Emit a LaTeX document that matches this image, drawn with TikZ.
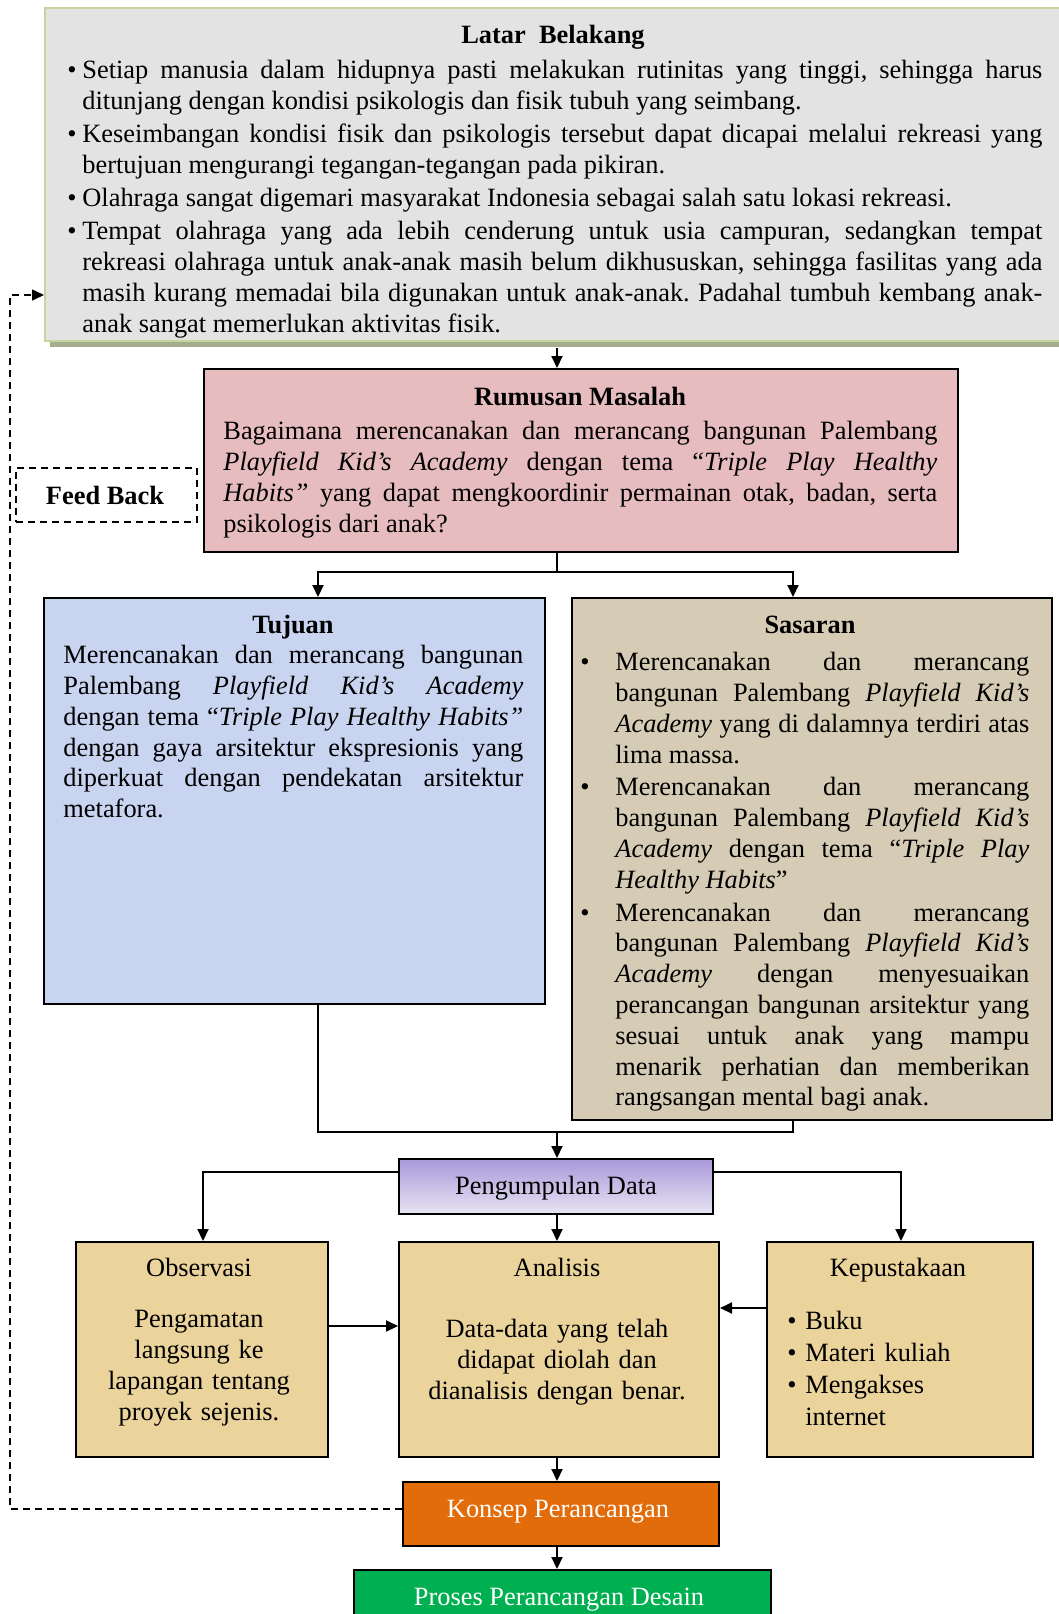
\documentclass[tikz,border=0pt]{standalone}
\usepackage{fontspec}
\setmainfont{Liberation Serif}
\usetikzlibrary{arrows.meta,calc}
\definecolor{latfill}{HTML}{E3E3E3}
\definecolor{latborder}{HTML}{C3D69B}
\definecolor{latshadow}{HTML}{A4AD8E}
\definecolor{rumfill}{HTML}{E6BCBE}
\definecolor{tujfill}{HTML}{C8D4F0}
\definecolor{sasfill}{HTML}{D6CCB5}
\definecolor{tanfill}{HTML}{EBD39C}
\definecolor{pdtop}{HTML}{A898D8}
\definecolor{pdbot}{HTML}{E8E4F4}
\definecolor{konfill}{HTML}{E36C0A}
\definecolor{profill}{HTML}{00B050}
\newcommand\bitem[1]{\hangindent=#1\hangafter=1\noindent\makebox[#1][l]{\textbullet}}
\frenchspacing
\begin{document}
\begin{tikzpicture}[x=0.5pt,y=-0.5pt,
  font=\fontsize{13.2pt}{15.4pt}\selectfont,
  box/.style={draw=black, line width=1pt, inner sep=0pt, anchor=north west},
  txt/.style={inner sep=0pt},
  body/.style={inner sep=0pt, anchor=mid west, align=justify},
  conn/.style={line width=1pt},
  arr/.style={conn, -{Triangle[length=6pt,width=5.5pt]}},
  fb/.style={line width=0.8pt, dash pattern=on 3.5pt off 2.5pt},
]
\useasboundingbox (0,0) rectangle (1059,1614);
\hyphenpenalty=10000 \exhyphenpenalty=0 \tolerance=10000

% ---------- boxes ----------
\node[anchor=north west, fill=latshadow, minimum width=511pt, minimum height=166.5pt, inner sep=0pt] (latsh) at (50,14) {};
\node[box, draw=latborder, fill=latfill, minimum width=511pt, minimum height=166.5pt] (lat) at (44,7) {};
\node[box, fill=rumfill, minimum width=377pt, minimum height=91.5pt] (rum) at (203,368) {};
\node[box, fb, minimum width=90.5pt, minimum height=27pt] (fbk) at (15,467) {};
\node[box, fill=tujfill, minimum width=250.5pt, minimum height=203pt] (tuj) at (43,597) {};
\node[box, fill=sasfill, minimum width=240pt, minimum height=261pt] (sas) at (571,597) {};
\node[box, top color=pdtop, bottom color=pdbot, minimum width=157pt, minimum height=27.5pt] (pd) at (398,1158) {};
\node[box, fill=tanfill, minimum width=126pt, minimum height=107.5pt] (obs) at (75,1241) {};
\node[box, fill=tanfill, minimum width=160pt, minimum height=107.5pt] (ana) at (398,1241) {};
\node[box, fill=tanfill, minimum width=133pt, minimum height=107.5pt] (kep) at (766,1241) {};
\node[box, fill=konfill, minimum width=158pt, minimum height=32pt] (kon) at (402,1481) {};
\node[box, fill=profill, minimum width=208.5pt, minimum height=40pt] (pro) at (353,1569) {};

% ---------- texts ----------
\node[txt, anchor=mid] (latt) at (553,39) {\textbf{Latar~ Belakang}};
\node[body, text width=487.5pt] (latb) at (67,74) {%
\bitem{7.5pt}Setiap manusia dalam hidupnya pasti melakukan rutinitas yang tinggi, sehingga harus\linebreak ditunjang dengan kondisi psikologis dan fisik tubuh yang seimbang.\par\vspace{1.2pt}
\bitem{7.5pt}Keseimbangan kondisi fisik dan psikologis tersebut dapat dicapai melalui rekreasi yang\linebreak bertujuan mengurangi tegangan-tegangan pada pikiran.\par\vspace{1.2pt}
\bitem{7.5pt}Olahraga sangat digemari masyarakat Indonesia sebagai salah satu lokasi rekreasi.\par\vspace{1.2pt}
\bitem{7.5pt}Tempat olahraga yang ada lebih cenderung untuk usia campuran, sedangkan tempat\linebreak rekreasi olahraga untuk anak-anak masih belum dikhususkan, sehingga fasilitas yang ada\linebreak masih kurang memadai bila digunakan untuk anak-anak. Padahal tumbuh kembang anak-\linebreak anak sangat memerlukan aktivitas fisik.\par};

\node[txt, anchor=mid] (rumt) at (580,401) {\textbf{Rumusan Masalah}};
\node[body, text width=357pt] (rumb) at (223,435) {%
Bagaimana merencanakan dan merancang bangunan Palembang\linebreak
\textit{Playfield Kid’s Academy} dengan tema “\textit{Triple Play Healthy}\linebreak
\textit{Habits”} yang dapat mengkoordinir permainan otak, badan, serta\linebreak
psikologis dari anak?};

\node[txt, anchor=mid] (fbt) at (105,500) {\textbf{Feed Back}};

\node[txt, anchor=mid] (tujt) at (293,629) {\textbf{Tujuan}};
\node[body, text width=230pt] (tujb) at (63,659) {%
Merencanakan dan merancang bangunan\linebreak
Palembang \textit{Playfield Kid’s Academy}\linebreak
dengan tema “\textit{Triple Play Healthy Habits”}\linebreak
dengan gaya arsitektur ekspresionis yang\linebreak
diperkuat dengan pendekatan arsitektur\linebreak
metafora.};

\node[txt, anchor=mid] (sast) at (810,629) {\textbf{Sasaran}};
\node[body, text width=224.5pt] (sasb) at (580,666) {%
\bitem{17.5pt}Merencanakan dan merancang\linebreak
bangunan Palembang \textit{Playfield Kid’s}\linebreak
\textit{Academy} yang di dalamnya terdiri atas\linebreak
lima massa.\par\vspace{1pt}
\bitem{17.5pt}Merencanakan dan merancang\linebreak
bangunan Palembang \textit{Playfield Kid’s}\linebreak
\textit{Academy} dengan tema “\textit{Triple Play}\linebreak
\textit{Healthy Habits}”\par\vspace{1pt}
\bitem{17.5pt}Merencanakan dan merancang\linebreak
bangunan Palembang \textit{Playfield Kid’s}\linebreak
\textit{Academy} dengan menyesuaikan\linebreak
perancangan bangunan arsitektur yang\linebreak
sesuai untuk anak yang mampu\linebreak
menarik perhatian dan memberikan\linebreak
rangsangan mental bagi anak.\par};

\node[txt, anchor=mid] (pdt) at (556,1190) {Pengumpulan Data};

\node[txt, anchor=mid] (obst) at (199,1272) {Observasi};
\node[txt, anchor=mid, align=center, text width=120pt] (obsb) at (199,1323) {Pengamatan\\langsung ke\\lapangan tentang\\proyek sejenis.};

\node[txt, anchor=mid] (anat) at (557,1272) {Analisis};
\node[txt, anchor=mid, align=center, text width=155pt] (anab) at (557,1333) {Data-data yang telah\\didapat diolah dan\\dianalisis dengan benar.};

\node[txt, anchor=mid] (kept) at (898,1272) {Kepustakaan};
\node[txt, anchor=mid west, align=left, text width=120pt, font=\fontsize{13.2pt}{16pt}\selectfont] (kepb) at (787,1325) {%
\bitem{9pt}Buku\par
\bitem{9pt}Materi kuliah\par
\bitem{9pt}Mengakses\newline internet\par};

\node[txt, anchor=mid, text=white] (kont) at (558,1513) {Konsep Perancangan};
\node[txt, anchor=mid, text=white] (prot) at (559,1601) {Proses Perancangan Desain};

% ---------- connectors ----------
\coordinate (cx) at (557,0);
\coordinate (tx) at (318,0);
\coordinate (sx) at (793,0);
\coordinate (sy) at (0,572);
\coordinate (my) at (0,1132);
\coordinate (py) at (0,1172);
\coordinate (ox) at (203,0);
\coordinate (kx) at (901,0);
\coordinate (ax) at (557,0);
\coordinate (oy) at (0,1326);
\coordinate (ky) at (0,1308);
\coordinate (fx) at (10,0);
\coordinate (fy) at (0,1509);
\coordinate (ty) at (0,295);

\draw[arr] (cx |- latsh.south) -- (cx |- rum.north);
\draw[conn] (cx |- rum.south) -- (cx |- sy);
\draw[arr] (cx |- sy) -| (tx |- tuj.north);
\draw[arr] (cx |- sy) -| (sx |- sas.north);
\draw[conn] (tx |- tuj.south) |- (cx |- my);
\draw[conn] (sx |- sas.south) |- (cx |- my);
\draw[arr] (cx |- my) -- (cx |- pd.north);
\draw[arr] (pd.west |- py) -| (ox |- obs.north);
\draw[arr] (pd.east |- py) -| (kx |- kep.north);
\draw[arr] (ax |- pd.south) -- (ax |- ana.north);
\draw[arr] (obs.east |- oy) -- (ana.west |- oy);
\draw[arr] (kep.west |- ky) -- (ana.east |- ky);
\draw[arr] (ax |- ana.south) -- (ax |- kon.north);
\draw[arr] (ax |- kon.south) -- (ax |- pro.north);
\draw[fb, -{Triangle[length=6pt,width=5.5pt]}] (kon.west |- fy) -- (fx |- fy) -- (fx |- ty) -- (lat.west |- ty);
\end{tikzpicture}
\end{document}
